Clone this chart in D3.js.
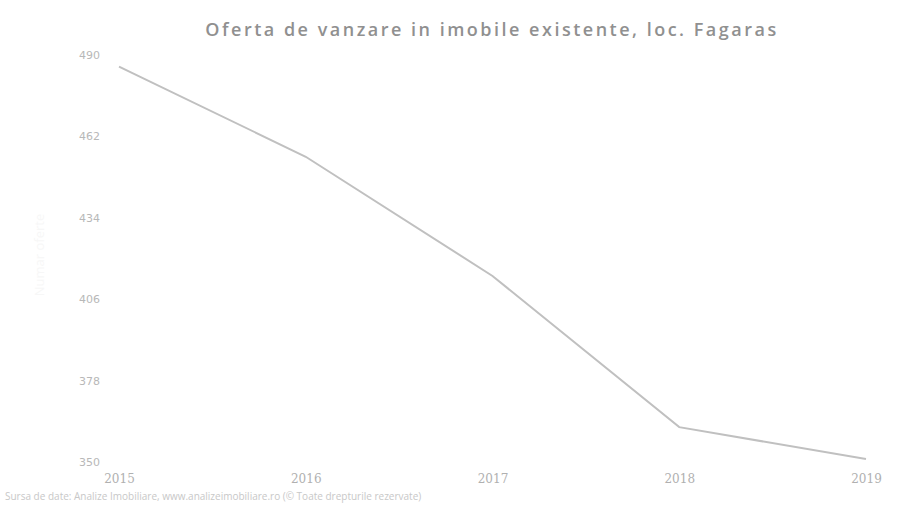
<!DOCTYPE html>
<html>
<head>
<meta charset="utf-8">
<script src="https://cdn.jsdelivr.net/npm/d3@7"></script>
<style>
  html, body { margin: 0; padding: 0; background: #fff; }
  svg { display: block; }
</style>
</head>
<body>
<svg id="chart" width="899" height="526"></svg>
<script>
const title = "Oferta de vanzare in imobile existente, loc. Fagaras";
const source = "Sursa de date: Analize Imobiliare, www.analizeimobiliare.ro (© Toate drepturile rezervate)";
const yTitle = "Numar oferte";
const years = ["2015", "2016", "2017", "2018", "2019"];
const values = [486, 455, 414, 362, 351];
const yTicks = [350, 378, 406, 434, 462, 490];

const svg = d3.select("#chart");

const x = d3.scalePoint().domain(years).range([119, 866]);
const y = d3.scaleLinear().domain([350, 490]).range([462, 55]);

svg.append("text")
  .attr("x", 492).attr("y", 36)
  .attr("text-anchor", "middle")
  .attr("font-family", "'Open Sans', sans-serif")
  .attr("font-size", 18)
  .attr("font-weight", 600)
  .attr("letter-spacing", 2.5)
  .attr("fill", "#909090")
  .text(title);

// y axis labels
const yAxis = d3.axisLeft(y).tickValues(yTicks).tickSize(0).tickPadding(0);
const gy = svg.append("g").attr("transform", "translate(100,0)").call(yAxis);
gy.select(".domain").remove();
gy.selectAll("text")
  .attr("font-family", "'DejaVu Sans', sans-serif")
  .attr("font-size", 11)
  .attr("fill", "#b8b8b8");

// x axis labels
const xAxis = d3.axisBottom(x).tickSize(0).tickPadding(0);
const gx = svg.append("g").attr("transform", "translate(0,474)").call(xAxis);
gx.select(".domain").remove();
gx.selectAll("text")
  .attr("font-family", "'DejaVu Serif', serif")
  .attr("font-size", 12)
  .attr("fill", "#b0b0b0");

// faint y title
svg.append("text")
  .attr("transform", "translate(44,255) rotate(-90)")
  .attr("text-anchor", "middle")
  .attr("font-family", "'Open Sans', sans-serif")
  .attr("font-size", 13)
  .attr("fill", "#f7f7f7")
  .text(yTitle);

// line
const line = d3.line().x((d, i) => x(years[i])).y(d => y(d));
svg.append("path")
  .datum(values)
  .attr("d", line)
  .attr("fill", "none")
  .attr("stroke", "#c0c0c0")
  .attr("stroke-width", 2);

// source
svg.append("text")
  .attr("x", 5).attr("y", 500)
  .attr("font-family", "'Open Sans', sans-serif")
  .attr("font-size", 10)
  .attr("fill", "#c8c8c8")
  .text(source);
</script>
</body>
</html>
